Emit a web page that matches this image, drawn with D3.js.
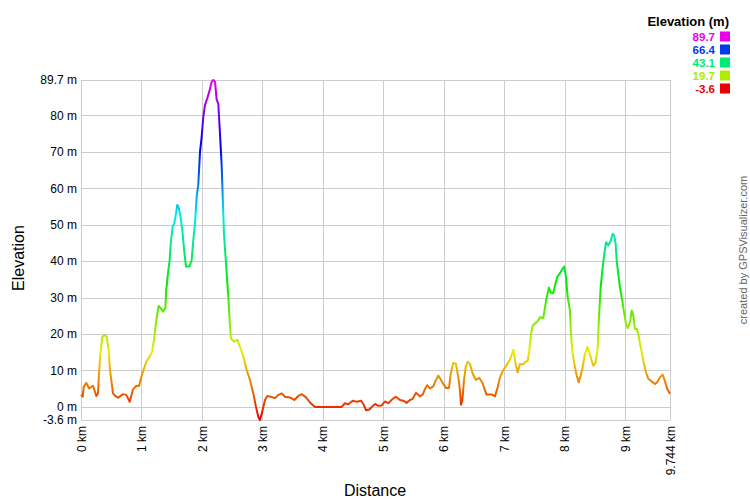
<!DOCTYPE html>
<html>
<head>
<meta charset="utf-8">
<script src="https://cdn.jsdelivr.net/npm/d3@7"></script>
<style>
  html, body { margin: 0; padding: 0; background: #fff; }
  svg { display: block; font-family: "Liberation Sans", Arial, sans-serif; }
</style>
</head>
<body>
<svg id="chart" width="750" height="500"></svg>
<script>
// ---- Data (distance km, elevation m) ----
const distanceKm = [0.000,0.028,0.045,0.088,0.132,0.199,0.253,0.281,0.298,0.319,0.352,0.392,0.425,0.458,0.480,0.501,0.529,0.567,0.612,0.695,0.749,0.806,0.860,0.915,0.959,0.988,1.026,1.080,1.136,1.175,1.208,1.246,1.285,1.318,1.356,1.395,1.411,1.439,1.467,1.484,1.517,1.543,1.572,1.593,1.621,1.649,1.676,1.709,1.737,1.792,1.831,1.858,1.886,1.914,1.940,1.969,1.997,2.023,2.051,2.089,2.122,2.162,2.189,2.217,2.245,2.271,2.299,2.328,2.344,2.366,2.399,2.437,2.465,2.481,2.531,2.586,2.630,2.685,2.741,2.796,2.850,2.895,2.933,2.961,2.999,3.044,3.082,3.138,3.209,3.264,3.320,3.375,3.457,3.529,3.595,3.651,3.722,3.788,3.871,4.313,4.367,4.422,4.495,4.561,4.632,4.670,4.715,4.769,4.825,4.864,4.918,4.974,5.029,5.083,5.156,5.211,5.277,5.332,5.388,5.443,5.487,5.542,5.608,5.653,5.691,5.729,5.773,5.828,5.873,5.911,5.955,5.993,6.038,6.088,6.116,6.159,6.203,6.242,6.270,6.286,6.308,6.336,6.364,6.397,6.435,6.480,6.534,6.589,6.645,6.683,6.711,6.794,6.849,6.893,6.931,6.976,7.042,7.097,7.151,7.191,7.224,7.262,7.307,7.345,7.390,7.416,7.444,7.472,7.510,7.555,7.593,7.648,7.676,7.704,7.742,7.770,7.813,7.841,7.879,7.924,7.969,7.995,8.023,8.051,8.089,8.106,8.134,8.172,8.200,8.233,8.266,8.299,8.337,8.376,8.409,8.448,8.475,8.515,8.548,8.569,8.597,8.630,8.657,8.685,8.723,8.763,8.796,8.822,8.845,8.862,8.888,8.916,8.954,8.983,9.016,9.044,9.082,9.110,9.137,9.164,9.193,9.220,9.247,9.275,9.313,9.347,9.385,9.441,9.495,9.533,9.578,9.623,9.661,9.699,9.744];
const elevationM = [3.3,2.8,5.5,6.6,5.1,5.8,3.0,3.7,9.2,14.2,19.3,19.7,19.3,15.6,10.1,7.4,3.7,3.0,2.5,3.5,3.3,1.4,4.8,5.8,5.7,7.6,9.7,12.4,13.8,15.1,18.4,23.8,27.7,27.1,26.1,27.1,32.1,36.7,40.3,44.9,49.5,50.4,53.1,55.4,54.5,51.8,48.5,42.6,38.5,38.5,40.3,45.8,50.4,57.7,60.9,70.0,74.2,79.6,82.8,84.7,86.5,89.2,89.7,89.2,84.2,83.3,75.1,65.9,57.7,47.2,39.4,30.2,22.0,18.8,17.9,18.4,16.5,13.8,10.1,7.4,3.7,0.0,-2.7,-3.6,-1.3,1.9,3.0,2.8,2.4,3.3,3.7,2.8,2.6,1.9,3.0,3.5,2.6,1.2,0.0,0.0,1.0,0.7,1.7,1.4,1.7,0.8,-0.9,-0.7,0.2,0.8,0.3,0.4,1.5,1.0,2.2,2.8,1.9,1.7,1.1,1.9,2.2,3.9,2.9,3.4,4.9,6.0,5.1,5.6,7.4,8.6,7.4,6.3,5.2,5.2,9.1,12.1,11.8,8.1,4.5,0.6,1.7,7.2,10.9,12.4,11.8,9.1,7.4,8.0,6.5,4.5,3.4,3.4,2.9,5.4,8.1,9.8,11.5,13.0,15.7,11.8,9.5,11.8,11.6,12.2,12.7,15.4,20.0,22.3,22.9,23.5,24.6,24.4,27.3,30.1,32.7,31.4,31.2,33.3,35.6,36.7,38.0,38.5,35.6,30.1,26.4,20.0,14.5,10.9,8.6,6.8,8.6,10.9,14.5,16.4,15.0,12.7,11.3,12.2,16.4,24.6,32.8,38.3,42.0,45.2,44.3,45.6,47.5,47.0,44.7,40.1,36.5,32.8,29.2,26.0,22.8,21.6,23.2,26.4,25.1,21.4,21.4,20.0,17.3,15.0,11.8,9.5,7.7,7.0,6.3,6.8,8.1,8.9,7.0,4.9,3.6];

const xTickValues = [0,1,2,3,4,5,6,7,8,9,9.744];
const xTickLabels = ["0 km","1 km","2 km","3 km","4 km","5 km","6 km","7 km","8 km","9 km","9.744 km"];
const yTickValues = [-3.6,0,10,20,30,40,50,60,70,80,89.7];
const yTickLabels = ["-3.6 m","0 m","10 m","20 m","30 m","40 m","50 m","60 m","70 m","80 m","89.7 m"];
const legendValues = [89.7,66.4,43.1,19.7,-3.6];
const legendLabels = ["89.7","66.4","43.1","19.7","-3.6"];

const minE = -3.6, maxE = 89.7, maxD = 9.744;

// ---- Layout ----
const svg = d3.select("#chart");
const plot = {left: 81, right: 670, top: 80, bottom: 420};

const x = d3.scaleLinear().domain([0, maxD]).range([plot.left, plot.right]);
const y = d3.scaleLinear().domain([minE, maxE]).range([plot.bottom, plot.top]);
const color = v => d3.hsl(300 * (v - minE) / (maxE - minE), 1, 0.46).formatHex();

// gridlines
const grid = svg.append("g");
grid.selectAll("line.h").data(yTickValues).join("line")
  .attr("x1", plot.left).attr("x2", plot.right)
  .attr("y1", d => Math.round(y(d)) + 0.5).attr("y2", d => Math.round(y(d)) + 0.5)
  .attr("stroke", "#cccccc").attr("stroke-width", 1);
grid.selectAll("line.v").data(xTickValues).join("line")
  .attr("y1", plot.top).attr("y2", plot.bottom)
  .attr("x1", d => Math.round(x(d)) + 0.5).attr("x2", d => Math.round(x(d)) + 0.5)
  .attr("stroke", "#cccccc").attr("stroke-width", 1);

// y axis labels
const yAxis = d3.axisLeft(y).tickValues(yTickValues)
  .tickFormat((d, i) => yTickLabels[i]).tickSize(0).tickPadding(4);
const gy = svg.append("g").attr("transform", `translate(${plot.left},0)`).call(yAxis);
gy.select(".domain").remove();
gy.selectAll("text").attr("font-size", 12).attr("fill", "#000")
  .attr("font-family", "Liberation Sans, Arial, sans-serif");

// x axis labels (rotated)
const xAxis = d3.axisBottom(x).tickValues(xTickValues)
  .tickFormat((d, i) => xTickLabels[i]).tickSize(0);
const gx = svg.append("g").attr("transform", `translate(0,${plot.bottom})`).call(xAxis);
gx.select(".domain").remove();
gx.selectAll("text")
  .attr("font-size", 12).attr("fill", "#000")
  .attr("font-family", "Liberation Sans, Arial, sans-serif")
  .attr("transform", "rotate(-90)")
  .attr("text-anchor", "end")
  .attr("x", -6).attr("y", 0).attr("dy", "0.35em");

// gradient for the profile line by elevation
const defs = svg.append("defs");
const grad = defs.append("linearGradient").attr("id", "elevGrad")
  .attr("gradientUnits", "userSpaceOnUse")
  .attr("x1", 0).attr("x2", 0).attr("y1", y(minE)).attr("y2", y(maxE));
d3.range(0, 1.0001, 0.05).forEach(t => {
  grad.append("stop").attr("offset", t).attr("stop-color", color(minE + t * (maxE - minE)));
});

const pts = distanceKm.map((d, i) => [d, elevationM[i]]);
const line = d3.line().x(d => x(d[0])).y(d => y(d[1]));
svg.append("path").datum(pts)
  .attr("d", line)
  .attr("fill", "none")
  .attr("stroke", "url(#elevGrad)")
  .attr("stroke-width", 2)
  .attr("stroke-linejoin", "round");

// axis titles
svg.append("text").attr("transform", "translate(24,258) rotate(-90)")
  .attr("text-anchor", "middle").attr("font-size", 16).attr("fill", "#000")
  .text("Elevation");
svg.append("text").attr("x", 375).attr("y", 496)
  .attr("text-anchor", "middle").attr("font-size", 16).attr("fill", "#000")
  .text("Distance");

// credit
svg.append("text").attr("transform", "translate(747,250) rotate(-90)")
  .attr("text-anchor", "middle").attr("font-size", 11).attr("fill", "#666")
  .text("created by GPSVisualizer.com");

// legend
svg.append("text").attr("x", 729).attr("y", 26)
  .attr("text-anchor", "end").attr("font-size", 13).attr("font-weight", "bold")
  .attr("fill", "#000").text("Elevation (m)");
const leg = svg.append("g");
legendValues.forEach((v, i) => {
  const cy = 36.5 + i * 13;
  leg.append("rect").attr("x", 720).attr("y", cy - 5).attr("width", 10).attr("height", 10)
    .attr("fill", color(v));
  leg.append("text").attr("x", 715).attr("y", cy).attr("dy", "0.36em")
    .attr("text-anchor", "end").attr("font-size", 11.5).attr("font-weight", "bold")
    .attr("fill", color(v)).text(legendLabels[i]);
});
</script>
</body>
</html>
